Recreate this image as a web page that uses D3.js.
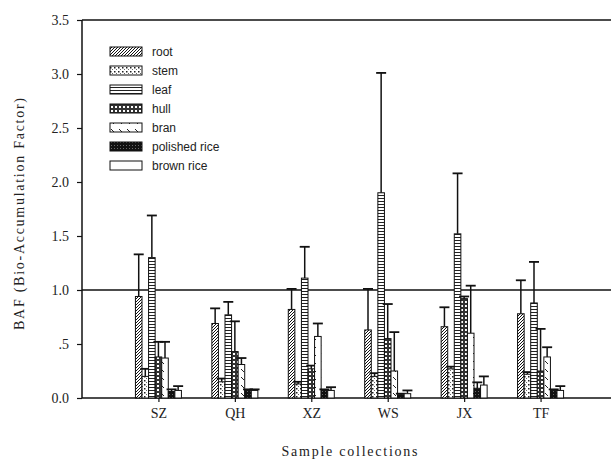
<!DOCTYPE html>
<html>
<head>
<meta charset="utf-8">
<script src="https://cdn.jsdelivr.net/npm/d3@7"></script>
<style>
  html, body { margin: 0; padding: 0; background: #fff; }
  svg { display: block; }
</style>
</head>
<body>
<svg id="chart" width="611" height="465"></svg>
<script>
// ---------------- data ----------------
const categories = ["SZ", "QH", "XZ", "WS", "JX", "TF"];
const seriesNames = ["root", "stem", "leaf", "hull", "bran", "polished rice", "brown rice"];

const rootVals     = [0.94, 0.69, 0.82, 0.63, 0.66, 0.78];
const rootErr      = [0.39, 0.14, 0.19, 0.38, 0.18, 0.31];
const stemVals     = [0.20, 0.15, 0.13, 0.20, 0.27, 0.22];
const stemErr      = [0.07, 0.03, 0.02, 0.03, 0.02, 0.02];
const leafVals     = [1.30, 0.77, 1.11, 1.90, 1.52, 0.88];
const leafErr      = [0.39, 0.12, 0.29, 1.11, 0.56, 0.38];
const hullVals     = [0.38, 0.43, 0.27, 0.55, 0.92, 0.25];
const hullErr      = [0.14, 0.28, 0.03, 0.32, 0.02, 0.39];
const branVals     = [0.37, 0.31, 0.57, 0.25, 0.60, 0.38];
const branErr      = [0.15, 0.06, 0.12, 0.36, 0.44, 0.09];
const polishedVals = [0.06, 0.07, 0.07, 0.03, 0.09, 0.07];
const polishedErr  = [0.02, 0.01, 0.01, 0.01, 0.055, 0.01];
const brownVals    = [0.07, 0.07, 0.07, 0.04, 0.12, 0.07];
const brownErr     = [0.04, 0.01, 0.03, 0.03, 0.08, 0.04];

const yTickValues = [0, 0.5, 1.0, 1.5, 2.0, 2.5, 3.0, 3.5];
const yTickLabels = ["0.0", ".5", "1.0", "1.5", "2.0", "2.5", "3.0", "3.5"];
const referenceValue = 1.0;

const seriesVals = [rootVals, stemVals, leafVals, hullVals, branVals, polishedVals, brownVals];
const seriesErrs = [rootErr, stemErr, leafErr, hullErr, branErr, polishedErr, brownErr];

// ---------------- layout ----------------
const svg = d3.select("#chart");
const plotL = 82, plotT = 20, plotB = 398, plotR = 617;

const x = d3.scaleLinear().domain([0, categories.length + 1]).range([plotL, plotR]);
const y = d3.scaleLinear().domain([0, 3.5]).range([plotB, plotT]);
const groupW = 46;
const xb = d3.scaleBand().domain(seriesNames).range([-groupW / 2, groupW / 2]).padding(0);

// ---------------- patterns ----------------
const defs = svg.append("defs");
function pat(id, w, h, draw) {
  const p = defs.append("pattern").attr("id", id).attr("patternUnits", "userSpaceOnUse")
    .attr("width", w).attr("height", h);
  draw(p);
}
pat("p-root", 3, 3, p => {
  p.append("rect").attr("width", 3).attr("height", 3).attr("fill", "#fff");
  p.append("path").attr("d", "M0,3 L3,0 M-1,1 L1,-1 M2,4 L4,2").attr("stroke", "#111").attr("stroke-width", 1);
});
pat("p-stem", 4, 4, p => {
  p.append("rect").attr("width", 4).attr("height", 4).attr("fill", "#fff");
  p.append("rect").attr("x", 0).attr("y", 0).attr("width", 1.5).attr("height", 1.5).attr("fill", "#222");
  p.append("rect").attr("x", 2).attr("y", 2).attr("width", 1).attr("height", 1).attr("fill", "#666");
});
pat("p-leaf", 4, 3, p => {
  p.append("rect").attr("width", 4).attr("height", 3).attr("fill", "#fff");
  p.append("rect").attr("x", 0).attr("y", 0).attr("width", 4).attr("height", 1).attr("fill", "#222");
});
pat("p-hull", 4, 4, p => {
  p.append("rect").attr("width", 4).attr("height", 4).attr("fill", "#333");
  p.append("rect").attr("x", 1).attr("y", 1).attr("width", 2).attr("height", 2).attr("fill", "#fff");
});
pat("p-bran", 8, 8, p => {
  p.append("rect").attr("width", 8).attr("height", 8).attr("fill", "#fff");
  p.append("path").attr("d", "M1,1 L4,4").attr("stroke", "#222").attr("stroke-width", 1);
});
pat("p-polished", 3, 3, p => {
  p.append("rect").attr("width", 3).attr("height", 3).attr("fill", "#111");
  p.append("rect").attr("x", 1).attr("y", 1).attr("width", 0.8).attr("height", 0.8).attr("fill", "#999");
});
pat("p-brown", 4, 4, p => {
  p.append("rect").attr("width", 4).attr("height", 4).attr("fill", "#fff");
});
const patIds = ["p-root", "p-stem", "p-leaf", "p-hull", "p-bran", "p-polished", "p-brown"];

// ---------------- frame ----------------
const frame = svg.append("g").attr("stroke", "#111").attr("stroke-width", 1.5).attr("fill", "none");
frame.append("line").attr("x1", plotL).attr("x2", plotR).attr("y1", plotT).attr("y2", plotT);
frame.append("line").attr("x1", plotL).attr("x2", plotR).attr("y1", plotB).attr("y2", plotB);
frame.append("line").attr("x1", plotL).attr("x2", plotL).attr("y1", plotT).attr("y2", plotB);
frame.append("line").attr("x1", plotR).attr("x2", plotR).attr("y1", plotT).attr("y2", plotB);

// reference line
svg.append("line").attr("x1", plotL).attr("x2", plotR)
  .attr("y1", y(referenceValue)).attr("y2", y(referenceValue))
  .attr("stroke", "#111").attr("stroke-width", 1.5);

// ---------------- axes ----------------
const yAxis = d3.axisLeft(y).tickValues(yTickValues)
  .tickFormat((d, i) => yTickLabels[i]).tickSize(5).tickPadding(8);
const gy = svg.append("g").attr("transform", `translate(${plotL},0)`).call(yAxis);
gy.select(".domain").remove();
gy.selectAll("line").attr("stroke", "#111").attr("stroke-width", 1.2);
gy.selectAll("text").attr("font-family", "'Liberation Serif', serif").attr("font-size", 14).attr("fill", "#222");

const xAxis = d3.axisBottom(x).tickValues(d3.range(1, categories.length + 1))
  .tickFormat((d) => categories[d - 1]).tickSize(4).tickPadding(6);
const gx = svg.append("g").attr("transform", `translate(0,${plotB})`).call(xAxis);
gx.select(".domain").remove();
gx.selectAll("line").attr("stroke", "#111").attr("stroke-width", 1.2);
gx.selectAll("text").attr("font-family", "'Liberation Serif', serif").attr("font-size", 14).attr("fill", "#222");

// titles
svg.append("text").attr("x", (plotL + plotR) / 2).attr("y", 456)
  .attr("text-anchor", "middle").attr("font-family", "'Liberation Serif', serif")
  .attr("font-size", 14).attr("fill", "#222").attr("textLength", 136).attr("lengthAdjust", "spacing")
  .text("Sample collections");
svg.append("text").attr("transform", `translate(24,${(plotT + plotB) / 2 + 5}) rotate(-90)`)
  .attr("text-anchor", "middle").attr("font-family", "'Liberation Serif', serif")
  .attr("font-size", 14).attr("fill", "#222").attr("textLength", 232).attr("lengthAdjust", "spacing")
  .text("BAF (Bio-Accumulation Factor)");

// ---------------- bars ----------------
const bw = xb.bandwidth();
seriesNames.forEach((s, si) => {
  const g = svg.append("g");
  const data = categories.map((c, ci) => ({ ci, v: seriesVals[si][ci], e: seriesErrs[si][ci] }));
  // error bars (upper only)
  data.forEach(d => {
    const cx = x(d.ci + 1) + xb(s) + bw / 2;
    g.append("line").attr("x1", cx).attr("x2", cx).attr("y1", y(d.v)).attr("y2", y(d.v + d.e))
      .attr("stroke", "#111").attr("stroke-width", 1.5);
    g.append("line").attr("x1", cx - 5).attr("x2", cx + 5).attr("y1", y(d.v + d.e)).attr("y2", y(d.v + d.e))
      .attr("stroke", "#111").attr("stroke-width", 1.8);
  });
  g.selectAll("rect").data(data).enter().append("rect")
    .attr("x", d => x(d.ci + 1) + xb(s))
    .attr("y", d => y(d.v))
    .attr("width", bw)
    .attr("height", d => y(0) - y(d.v))
    .attr("fill", `url(#${patIds[si]})`)
    .attr("stroke", "#111").attr("stroke-width", 1);
});

// ---------------- legend ----------------
const legend = svg.append("g").attr("transform", "translate(110,52)");
seriesNames.forEach((s, i) => {
  const row = legend.append("g").attr("transform", `translate(0,${i * 19})`);
  row.append("rect").attr("x", 0).attr("y", -5).attr("width", 32).attr("height", 9)
    .attr("fill", `url(#${patIds[i]})`).attr("stroke", "#111").attr("stroke-width", 1);
  row.append("text").attr("x", 42).attr("y", 4).attr("font-family", "'Liberation Sans', Arial, sans-serif")
    .attr("font-size", 12).attr("fill", "#222").text(s);
});
</script>
</body>
</html>
